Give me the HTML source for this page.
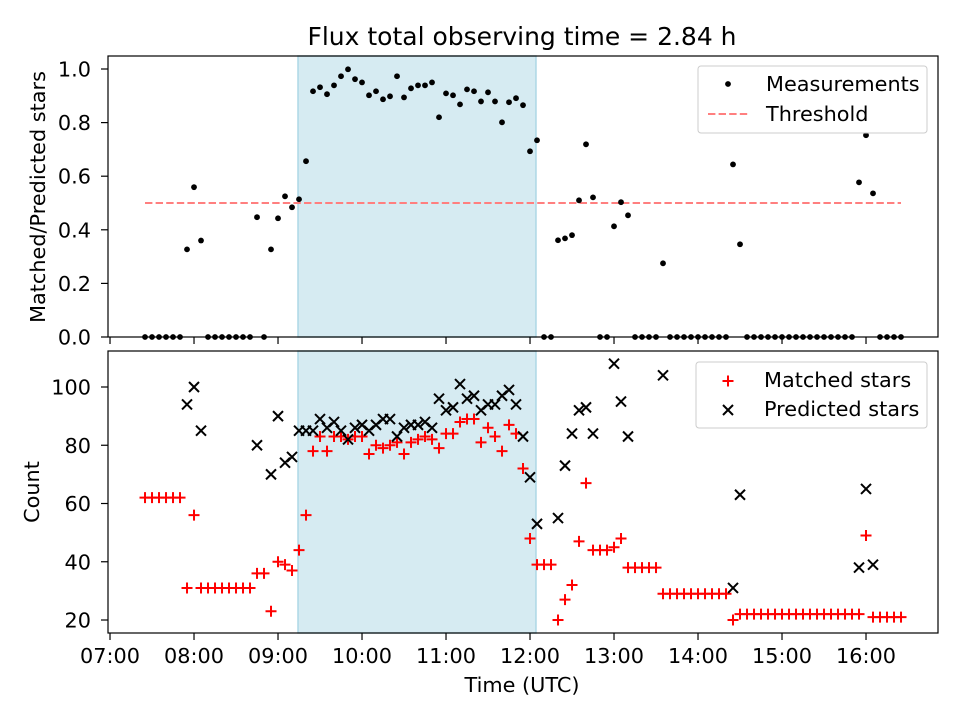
<!DOCTYPE html>
<html><head><meta charset="utf-8"><style>
body{margin:0;background:#fff;}
svg{font-family:"DejaVu Sans","Liberation Sans",sans-serif;}
</style></head><body>
<svg id="chart" width="960" height="720" viewBox="0 0 960 720" xmlns="http://www.w3.org/2000/svg">
<rect width="960" height="720" fill="#fff"/>
<text x="522" y="45" font-size="25" text-anchor="middle">Flux total observing time = 2.84 h</text>
<g id="topAx"></g><g id="botAx"></g>
</svg>
<script>
// sample index k: time = 07:00 + k*5 min, k from 5 to 113
const kStart = 5;
const matched = [62,62,62,62,62,62, 31,56, 31,31,31,31,31,31,31,31, 36,36,23,40,39,37,44,56,
78,83,78,83,83,82,83,83,77,80,79,80,81,77,81,82,83,82,79,84,84,88,89,89,81,86,83,78,87,84,72,48,39,
39,39, 20,27,32,47,67,44,44,44,45,48,38,38,38,38,38,
29,29,29,29,29,29,29,29,29,29, 20, 22,22,22,22,22,22,22,22,22,22,22,22,22,22,22,22,22,22, 49,21,21,21,21,21];
const predicted = [null,null,null,null,null,null, 94,100,85,null,null,null,null,null,null,null, 80,null,70,90,74,76,85,85,
85,89,86,88,85,82,86,87,85,87,89,89,83,86,87,87,88,86,96,92,93,101,96,97,92,94,94,97,99,94,83,69,53,
null,null, 55,73,84,92,93,84,null,null,108,95,83,null,null,null,null,
104,null,null,null,null,null,null,null,null,null, 31,63, null,null,null,null,null,null,null,null,null,null,null,null,null,null,null,null, 38,65,39,null,null,null,null];
const ratio = [0,0,0,0,0,0, .327,.559,.36, 0,0,0,0,0,0,0, .447,0,.327,.443,.525,.484,.514,.656,
.917,.932,.906,.939,.973,.999,.962,.950,.902,.917,.887,.898,.973,.894,.928,.939,.939,.950,.820,.909,.902,.868,.924,.917,.879,.913,.879,.801,.876,.891,.865,.693,.734,
0,0, .361,.368,.380,.510,.719,.521,0,0,.413,.503,.454,0,0,0,0,
.275,0,0,0,0,0,0,0,0,0, .644,.346, 0,0,0,0,0,0,0,0,0,0,0,0,0,0,0,0, .577,.753,.536,0,0,0,0];
const threshold = 0.5;
const shadeStart = 9.238, shadeEnd = 12.071;
const xTickLabels = ["07:00","08:00","09:00","10:00","11:00","12:00","13:00","14:00","15:00","16:00"];
const topTicks = [0,0.2,0.4,0.6,0.8,1.0];
const botTicks = [20,40,60,80,100];

const NS="http://www.w3.org/2000/svg";
function mk(parent,tag,attrs){const e=document.createElementNS(NS,tag);for(const a in attrs)e.setAttribute(a,attrs[a]);parent.appendChild(e);return e;}
const X0=108,X1=938, xmin=6.976, xmax=16.857;
const sx=h=>X0+(h-xmin)/(xmax-xmin)*(X1-X0);
const T0=56,T1=337, tmin=0,tmax=1.0485;
const syT=v=>T1-(v-tmin)/(tmax-tmin)*(T1-T0);
const B0=351,B1=633, bmin=15.54,bmax=112.36;
const syB=v=>B1-(v-bmin)/(bmax-bmin)*(B1-B0);
const hourOf=i=>7+(kStart+i)*5/60;

const gTop=document.getElementById('topAx'), gBot=document.getElementById('botAx');
function axesFrame(g,y0,y1,name){
  let r=mk(g,'rect',{x:sx(shadeStart),y:y0,width:sx(shadeEnd)-sx(shadeStart),height:y1-y0,fill:'#add8e6','fill-opacity':0.5,stroke:'#add8e6','stroke-width':1.5});
  
  
}
axesFrame(gTop,T0,T1,'top');axesFrame(gBot,B0,B1,'bottom');

let th=mk(gTop,'line',{x1:sx(hourOf(0)),x2:sx(hourOf(matched.length-1)),y1:syT(threshold),y2:syT(threshold),stroke:'#ff7f7f','stroke-width':2,'stroke-dasharray':'7.4,3.2'});



ratio.forEach((v,i)=>{
  const c=mk(gTop,'circle',{cx:sx(hourOf(i)),cy:syT(v),r:2.9,fill:'#000'});
  
  
});
matched.forEach((v,i)=>{
  const x=sx(hourOf(i)),y=syB(v);
  const p=mk(gBot,'path',{d:`M${x-5.5} ${y}H${x+5.5}M${x} ${y-5.5}V${y+5.5}`,stroke:'#f00','stroke-width':2});
  
  
});
predicted.forEach((v,i)=>{
  if(v===null)return;
  const x=sx(hourOf(i)),y=syB(v);
  const p=mk(gBot,'path',{d:`M${x-5} ${y-5}L${x+5} ${y+5}M${x-5} ${y+5}L${x+5} ${y-5}`,stroke:'#000','stroke-width':2});
  
  
});

[[gTop,T0,T1,'top-axes-frame'],[gBot,B0,B1,'bottom-axes-frame']].forEach(([g,a,b,n])=>{
  const f=mk(g,'rect',{x:X0,y:a,width:X1-X0,height:b-a,fill:'none',stroke:'#000','stroke-width':1.2});
  
  
});
xTickLabels.forEach((lab,i)=>{
  const x=sx(7+i);
  mk(gTop,'line',{x1:x,x2:x,y1:T1,y2:T1+7,stroke:'#000','stroke-width':1.2});
  mk(gBot,'line',{x1:x,x2:x,y1:B1,y2:B1+7,stroke:'#000','stroke-width':1.2});
  const t=mk(gBot,'text',{x:x,y:663,'font-size':20.8,'text-anchor':'middle'});
  t.textContent=lab;
  
  
});
topTicks.forEach(v=>{
  const y=syT(v);
  mk(gTop,'line',{x1:X0-7,x2:X0,y1:y,y2:y,stroke:'#000','stroke-width':1.2});
  const t=mk(gTop,'text',{x:91,y:y+7.5,'font-size':20.8,'text-anchor':'end'});
  t.textContent=v.toFixed(1);
  
  
});
botTicks.forEach(v=>{
  const y=syB(v);
  mk(gBot,'line',{x1:X0-7,x2:X0,y1:y,y2:y,stroke:'#000','stroke-width':1.2});
  const t=mk(gBot,'text',{x:91,y:y+7.5,'font-size':20.8,'text-anchor':'end'});
  t.textContent=String(v);
  
  
});
</script>
<svg style="position:absolute;left:0;top:0" width="960" height="720" xmlns="http://www.w3.org/2000/svg" font-family="DejaVu Sans, Liberation Sans, sans-serif">
<text transform="translate(45,197) rotate(-90)" font-size="20.8" text-anchor="middle">Matched/Predicted stars</text>
<text transform="translate(39,492) rotate(-90)" font-size="20.8" text-anchor="middle">Count</text>
<text x="522" y="692" font-size="20.8" text-anchor="middle">Time (UTC)</text>
<g>
<rect x="698" y="66" width="229" height="67" rx="3" fill="#fff" fill-opacity="0.8" stroke="#ccc"/>
<circle cx="728" cy="84" r="2.9" fill="#000"/>
<text x="766" y="91" font-size="20.8">Measurements</text>
<line x1="708" x2="748" y1="114" y2="114" stroke="#ff7f7f" stroke-width="2" stroke-dasharray="7.4,3.2"/>
<text x="766" y="121" font-size="20.8">Threshold</text>
</g>
<g>
<rect x="696" y="362" width="231" height="66" rx="3" fill="#fff" fill-opacity="0.8" stroke="#ccc"/>
<path d="M722.5 381H733.5M728 375.5V386.5" stroke="#f00" stroke-width="2"/>
<text x="764" y="387" font-size="20.8">Matched stars</text>
<path d="M723 405L733 415M723 415L733 405" stroke="#000" stroke-width="2"/>
<text x="764" y="416" font-size="20.8">Predicted stars</text>
</g>
</svg>
</body></html>
